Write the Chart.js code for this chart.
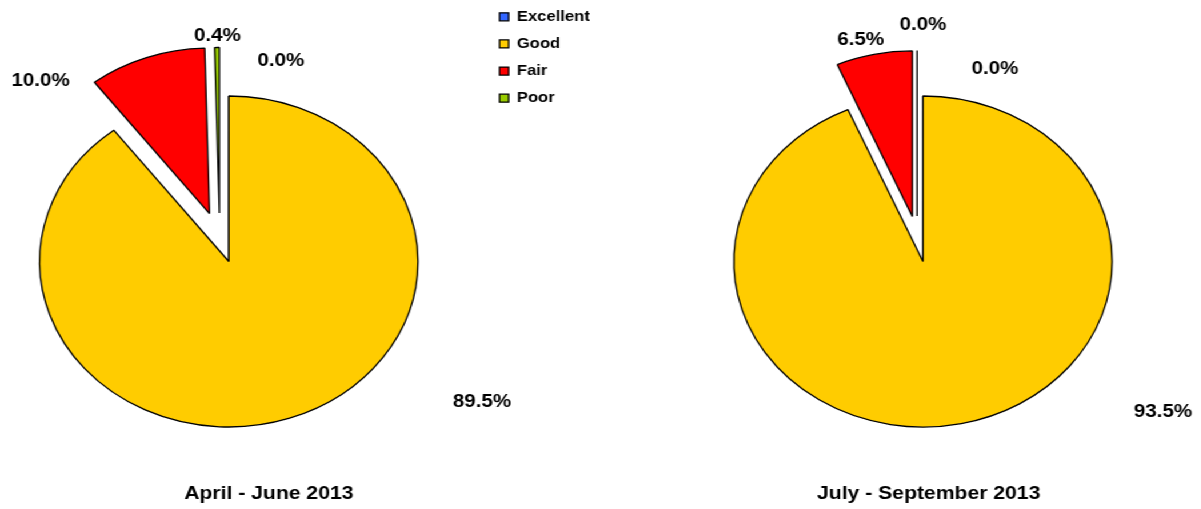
<!DOCTYPE html>
<html>
<head>
<meta charset="utf-8">
<script src="https://cdn.jsdelivr.net/npm/chart.js@4.4.1/dist/chart.umd.min.js"></script>
<style>
  html, body { margin: 0; padding: 0; background: #fff; overflow: hidden; width: 1201px; height: 509px; }
  /* the whole figure is drawn slightly wide, so pies come out as ellipses */
  #stage { position: absolute; left: 0; top: 0; width: 1051px; height: 509px;
           transform: scaleX(1.143); transform-origin: 0 0; }
  #stage canvas { position: absolute; }
  #pieA { left: -24px; top: -3px; }
  #pieB { left: 567px; top: -3px; }
</style>
</head>
<body>
<div id="stage">
  <canvas id="pieA" width="550" height="529"></canvas>
  <canvas id="pieB" width="481" height="529"></canvas>
</div>
<script>
// ---- data ----
const categories = ['Excellent', 'Good', 'Fair', 'Poor'];
const aprJun2013 = [0.0, 89.5, 10.0, 0.4];
const julSep2013 = [0.0, 93.5, 6.5, 0.0];
const periodTitles = ['April - June 2013', 'July - September 2013'];

// ---- style ----
const sliceColors = ['#3366FF', '#FFCC00', '#FF0000', '#99CC00'];
const FONT = '"Liberation Sans", Arial, Helvetica, sans-serif';
Chart.defaults.font.family = FONT;

// Pulls slices out of the pie, writes the percentage labels and the period caption.
const pieDecor = {
  id: 'pieDecor',
  beforeDatasetDraw(chart, args, opts) {
    const ctx = chart.ctx;
    args.meta.data.forEach((arc, i) => {
      const ex = opts.explode[i];
      let dx = 0, dy = 0;
      if (ex) {
        const a = ex.dirDeg != null ? (ex.dirDeg - 90) * Math.PI / 180
                                    : (arc.startAngle + arc.endAngle) / 2;
        dx = Math.cos(a) * ex.dist;
        dy = Math.sin(a) * ex.dist;
      }
      ctx.save();
      ctx.translate(dx, dy);
      if (arc.circumference > 0) {
        arc.draw(ctx);
      } else {
        // an empty slice still shows its edge along the radius
        ctx.beginPath();
        ctx.moveTo(arc.x, arc.y);
        ctx.lineTo(arc.x + Math.cos(arc.startAngle) * arc.outerRadius,
                   arc.y + Math.sin(arc.startAngle) * arc.outerRadius);
        ctx.strokeStyle = arc.options.borderColor;
        ctx.lineWidth = arc.options.borderWidth;
        ctx.stroke();
      }
      ctx.restore();
    });
    return false;
  },
  afterDraw(chart, args, opts) {
    const ctx = chart.ctx;
    const meta = chart.getDatasetMeta(0);
    const cx = meta.data[0].x, cy = meta.data[0].y;
    const values = chart.data.datasets[0].data;
    ctx.save();
    ctx.fillStyle = '#000';
    ctx.textAlign = 'center';
    ctx.textBaseline = 'middle';
    ctx.font = 'bold 18px ' + FONT;
    values.forEach((v, i) => {
      const p = opts.labelAt[i];
      ctx.fillText(v.toFixed(1) + '%', cx + p[0], cy + p[1]);
    });
    ctx.font = 'bold 18.5px ' + FONT;
    ctx.fillText(opts.caption, cx + opts.captionDx, opts.captionY);
    ctx.restore();
  }
};

function pieConfig(values, caption, decor, showLegend) {
  return {
    type: 'pie',
    data: {
      labels: categories,
      datasets: [{
        data: values,
        backgroundColor: sliceColors,
        borderColor: '#000',
        borderWidth: 1.3,
        hoverOffset: 0,
        offset: 0
      }]
    },
    options: {
      responsive: false,
      devicePixelRatio: 1,
      animation: false,
      events: [],
      radius: 165.5,
      layout: { padding: 0 },
      plugins: {
        legend: {
          display: showLegend,
          position: 'right',
          align: 'start',
          labels: {
            boxWidth: 8,
            boxHeight: 8,
            padding: 12.6,
            color: '#000',
            font: { size: 14.5, weight: 'bold', family: FONT }
          }
        },
        tooltip: { enabled: false },
        title: { display: false },
        pieDecor: Object.assign({ caption }, decor)
      }
    },
    plugins: [pieDecor]
  };
}

new Chart(document.getElementById('pieA'), pieConfig(aprJun2013, periodTitles[0], {
  explode: [null, null, { dist: 50.8 }, { dist: 49.2, dirDeg: -9.7 }],
  labelAt: [[45.6, -200.7], [221.5, 140.8], [-164.8, -180.2], [-9.9, -225.7]],
  captionDx: 35,
  captionY: 497
}, true));

new Chart(document.getElementById('pieB'), pieConfig(julSep2013, periodTitles[1], {
  explode: [null, null, { dist: 46 }, { dist: 45.8, dirDeg: -6.5 }],
  labelAt: [[62.9, -192.2], [210, 151], [-54.6, -221.5], [-0.1, -236.2]],
  captionDx: 5,
  captionY: 497
}, false));
</script>
</body>
</html>
